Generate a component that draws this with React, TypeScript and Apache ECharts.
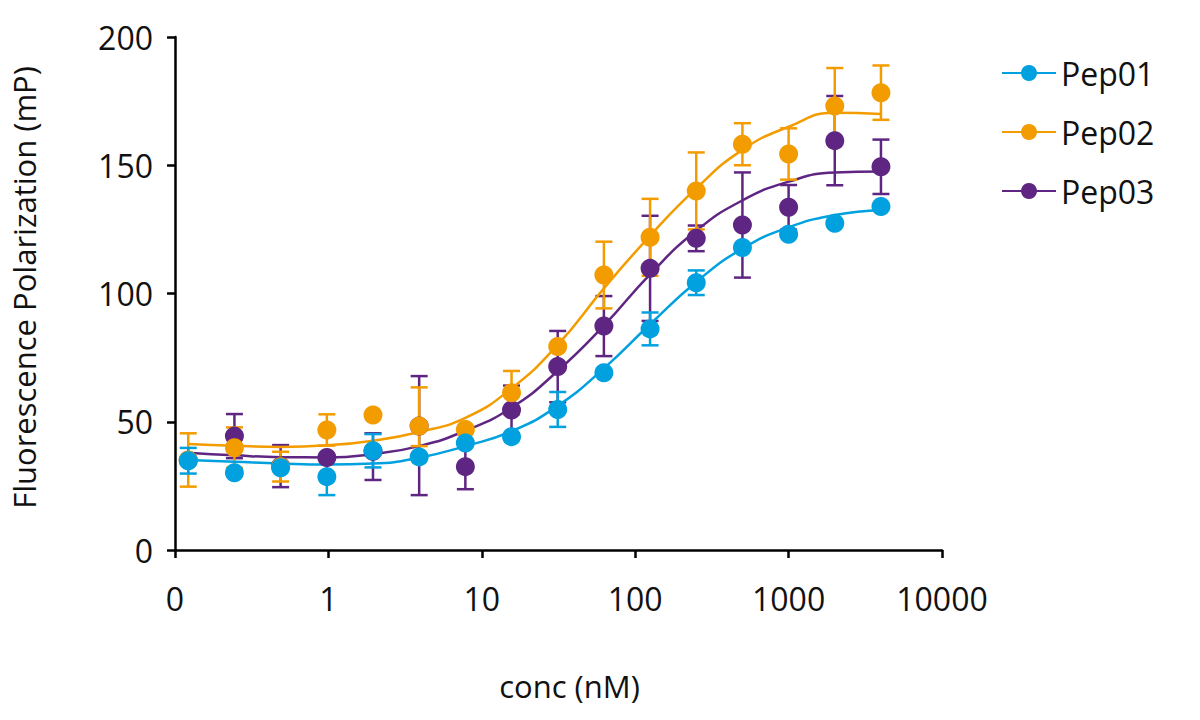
import { useEffect, useRef } from 'react'
import * as echarts from 'echarts'

// concentrations (nM), 2-fold dilution series
const conc = [0.122, 0.244, 0.488, 0.977, 1.953, 3.906, 7.813, 15.625, 31.25, 62.5, 125, 250, 500, 1000, 2000, 4000]

// measured means (mP) and error (number = symmetric, [down, up] otherwise)
const pep01Mean = [34.8, 30.1, 32.1, 28.6, 38.7, 36.3, 41.7, 44.2, 54.8, 69.1, 86.2, 104.2, 117.9, 123.1, 127.4, 133.9]
const pep01Err = [5, 0, 0, 7.2, 6.5, 0, 0, 0, 6.8, 0, 6.4, 4.8, 0, 0, 0, 0]
const pep02Mean = [35.1, 39.9, 32.5, 46.8, 52.6, 48.3, 47.0, 61.3, 79.3, 107.2, 121.9, 140.0, 158.2, 154.4, 173.1, 178.3]
const pep02Err: Array<number | [number, number]> = [10.4, 7.9, 5.8, 6.1, 0, [7.8, 15.1], 0, 8.5, 0, 13, 15, 15, 8.2, 10, 14.8, 10.6]
const pep03Mean = [35.0, 44.4, 32.7, 36.1, 38.5, 48.3, 32.5, 54.6, 71.5, 87.3, 109.8, 121.5, 126.7, 133.6, 159.6, 149.4]
const pep03Err: Array<number | [number, number]> = [0, 8.6, 8.2, 0, [11.2, 7.0], [26.9, 19.5], 8.8, 9.5, 13.9, 11.7, 20.5, 5, 20.5, 8.7, 17.4, 10.6]

// fitted curves, read at each concentration
const pep01Fit = [35.1, 34.4, 33.7, 33.3, 33.7, 36.0, 40.5, 46.3, 56.2, 70.8, 88.0, 104.5, 117.5, 125.8, 130.6, 132.6]
const pep02Fit = [41.3, 40.6, 40.2, 40.8, 42.6, 46.0, 51.5, 63.0, 80.0, 102.0, 122.5, 141.0, 156.0, 165.0, 170.5, 170.0]
const pep03Fit = [37.9, 36.9, 36.2, 36.1, 37.4, 40.5, 46.5, 55.5, 69.8, 87.5, 107.5, 124.5, 136.3, 143.6, 147.2, 147.6]

const xTickValues = [0.1, 1, 10, 100, 1000, 10000]
const xTickLabels = ['0', '1', '10', '100', '1000', '10000']

const FONT = 'Open Sans'

interface Peptide {
  name: string
  color: string
  mean: number[]
  err: Array<number | [number, number]>
  fit: number[]
  z: number
}

const peptides: Peptide[] = [
  { name: 'Pep01', color: '#00A1DE', mean: pep01Mean, err: pep01Err, fit: pep01Fit, z: 6 },
  { name: 'Pep02', color: '#F39C00', mean: pep02Mean, err: pep02Err, fit: pep02Fit, z: 5 },
  { name: 'Pep03', color: '#5F2582', mean: pep03Mean, err: pep03Err, fit: pep03Fit, z: 4 },
]

function errorBars(p: Peptide) {
  const data: number[][] = []
  p.mean.forEach((m, i) => {
    const e = p.err[i]
    const [down, up] = Array.isArray(e) ? e : [e, e]
    if (down > 0 || up > 0) data.push([conc[i], m, m - down, m + up])
  })
  return {
    name: p.name,
    type: 'custom',
    z: p.z - 3,
    data,
    encode: { x: 0, y: [1, 2, 3] },
    renderItem: (_params: any, api: any) => {
      const x = api.value(0)
      const lo = api.coord([x, api.value(2)])
      const hi = api.coord([x, api.value(3)])
      const half = 8.5
      const style = { stroke: p.color, lineWidth: 2.5 }
      return {
        type: 'group',
        children: [
          { type: 'line', shape: { x1: lo[0], y1: lo[1], x2: hi[0], y2: hi[1] }, style },
          { type: 'line', shape: { x1: hi[0] - half, y1: hi[1], x2: hi[0] + half, y2: hi[1] }, style },
          { type: 'line', shape: { x1: lo[0] - half, y1: lo[1], x2: lo[0] + half, y2: lo[1] }, style },
        ],
      }
    },
  }
}

export default function App() {
  const chartRef = useRef<HTMLDivElement>(null)

  useEffect(() => {
    if (!chartRef.current) return
    const chart = echarts.init(chartRef.current, undefined, { renderer: 'svg' })

    const series: any[] = []
    peptides.forEach((p) => {
      series.push({
        name: p.name,
        type: 'line',
        data: conc.map((c, i) => [c, p.fit[i]]),
        smooth: true,
        symbol: 'circle',
        symbolSize: 20,
        showSymbol: false,
        z: p.z - 3,
        itemStyle: { color: p.color },
        lineStyle: { color: p.color, width: 2.5 },
      })
    })
    peptides.forEach((p) => series.push(errorBars(p)))
    peptides.forEach((p) => {
      series.push({
        name: p.name,
        type: 'scatter',
        data: conc.map((c, i) => [c, p.mean[i]]),
        symbol: 'circle',
        symbolSize: 19,
        z: p.z,
        itemStyle: { color: p.color, opacity: 1 },
      })
    })

    chart.setOption({
      animation: false,
      textStyle: { fontFamily: FONT },
      grid: { left: 172, right: 258, top: 37, bottom: 170 },
      legend: {
        data: peptides.map((p) => p.name),
        orient: 'vertical',
        left: 996,
        top: 52,
        itemWidth: 54,
        itemHeight: 20,
        itemGap: 27,
        textStyle: { fontFamily: FONT, fontSize: 32, color: '#111' },
      },
      xAxis: {
        type: 'log',
        logBase: 10,
        min: 0.1,
        max: 10000,
        name: 'conc (nM)',
        nameLocation: 'middle',
        nameGap: 120,
        nameTextStyle: { fontFamily: FONT, fontSize: 31, color: '#111', padding: [0, 0, 0, 22] },
        axisLine: { lineStyle: { color: '#000', width: 2.5 } },
        axisTick: { show: true, length: 8, lineStyle: { color: '#000', width: 2.5 } },
        minorTick: { show: false },
        splitLine: { show: false },
        axisLabel: {
          fontFamily: FONT,
          fontSize: 32,
          color: '#111',
          margin: 32,
          formatter: (v: number) => {
            const i = xTickValues.findIndex((t) => Math.abs(Math.log10(t) - Math.log10(v)) < 1e-6)
            return i >= 0 ? xTickLabels[i] : ''
          },
        },
      },
      yAxis: {
        type: 'value',
        min: 0,
        max: 200,
        interval: 50,
        name: 'Fluorescence Polarization (mP)',
        nameLocation: 'middle',
        nameGap: 136,
        nameTextStyle: { fontFamily: FONT, fontSize: 31, color: '#111', padding: [0, 0, 0, 12] },
        axisLine: { show: true, lineStyle: { color: '#000', width: 2.5 } },
        axisTick: { show: true, length: 8, lineStyle: { color: '#000', width: 2.5 } },
        splitLine: { show: false },
        axisLabel: { fontFamily: FONT, fontSize: 32, color: '#111', margin: 22 },
      },
      series,
    })

    return () => chart.dispose()
  }, [])

  return (
    <div
      ref={chartRef}
      style={{ position: 'fixed', left: 0, top: 0, width: 1200, height: 720, background: '#fff' }}
    />
  )
}
